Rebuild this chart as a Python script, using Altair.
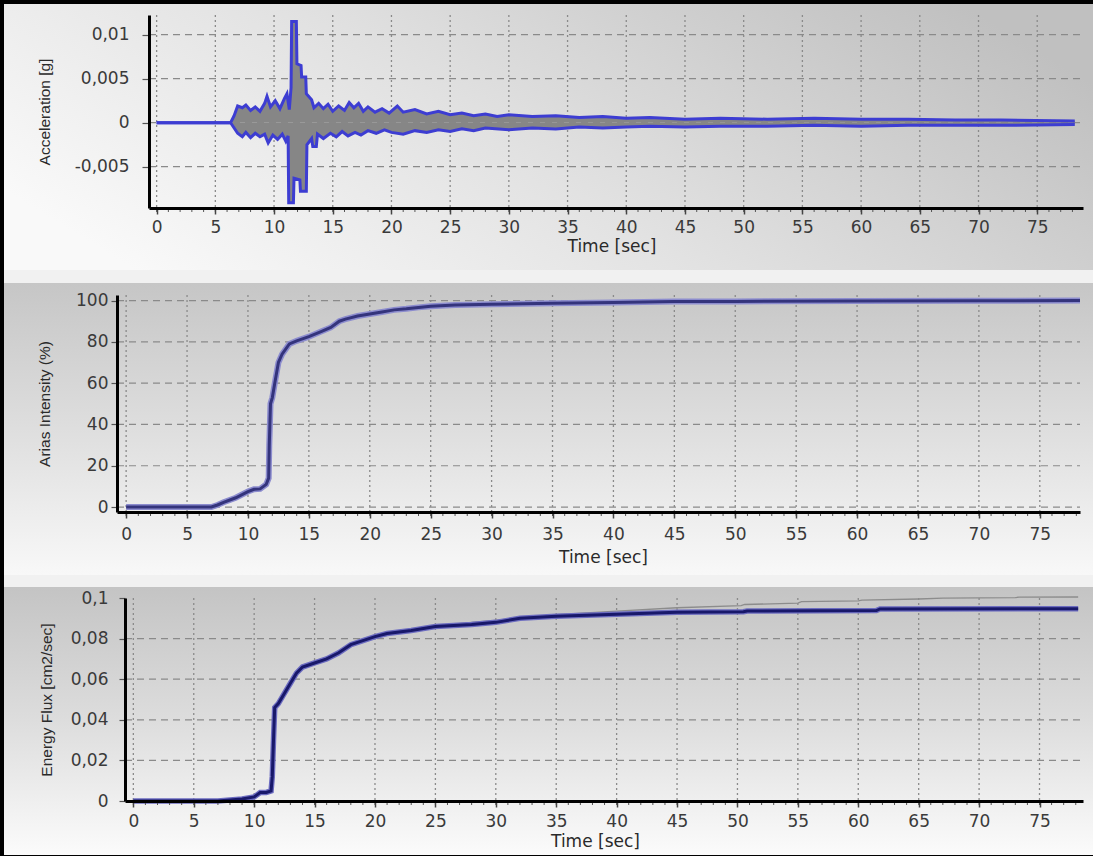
import altair as alt
import pandas as pd

# ---------------- data ----------------
time_ticks = [0, 5, 10, 15, 20, 25, 30, 35, 40, 45, 50, 55, 60, 65, 70, 75]
minor_ticks = list(range(0, 79))
acc_ticks = [-0.005, 0, 0.005, 0.01]
arias_ticks = [0, 20, 40, 60, 80, 100]
flux_ticks = [0, 0.02, 0.04, 0.06, 0.08]
flux_labels = [0, 0.02, 0.04, 0.06, 0.08, 0.1]

acc_upper = [(0, 0), (6.3, 0), (6.6, 0.0008), (6.9, 0.0019), (7.3, 0.0017), (7.6, 0.002), (8.0, 0.0014),
             (8.4, 0.0018), (8.8, 0.0013), (9.2, 0.0022), (9.4, 0.003), (9.7, 0.0018), (10.1, 0.0025),
             (10.5, 0.0016), (10.9, 0.0028), (11.1, 0.0033), (11.3, 0.0015), (11.45, 0.004), (11.5, 0.0115),
             (11.9, 0.0115), (11.95, 0.0067), (12.3, 0.0065), (12.35, 0.0052), (12.7, 0.0052), (12.75, 0.0033),
             (13.2, 0.0026), (13.4, 0.0017), (13.8, 0.0022), (14.2, 0.0016), (14.6, 0.0021), (15.0, 0.0013),
             (15.5, 0.0019), (16.0, 0.0014), (16.4, 0.0023), (16.8, 0.0017), (17.2, 0.0022), (17.6, 0.0013),
             (18.0, 0.0018), (18.6, 0.0012), (19.2, 0.0016), (19.8, 0.0011), (20.5, 0.0019), (21, 0.0012),
             (22, 0.0015), (23, 0.001), (24, 0.0013), (25, 0.0009), (26, 0.0011), (27, 0.0008), (28, 0.001),
             (29, 0.0007), (30, 0.0009), (32, 0.0007), (34, 0.0008), (36, 0.0006), (38, 0.0007), (40, 0.0005),
             (42, 0.0006), (45, 0.0004), (48, 0.0005), (52, 0.0004), (56, 0.0005), (60, 0.0004), (64, 0.0004),
             (68, 0.0003), (72, 0.0003), (78.2, 0.0002)]
acc_lower = [(0, 0), (6.3, 0), (6.6, -0.0006), (6.9, -0.0012), (7.3, -0.0016), (7.6, -0.0011), (8.0, -0.0017),
             (8.4, -0.0012), (8.8, -0.0016), (9.2, -0.0013), (9.5, -0.0023), (9.9, -0.0014), (10.3, -0.0019),
             (10.7, -0.0013), (11.0, -0.0021), (11.2, -0.0015), (11.25, -0.0091), (11.65, -0.0091),
             (11.7, -0.0063), (12.2, -0.0065), (12.25, -0.0078), (12.75, -0.0078), (12.8, -0.0025),
             (13.2, -0.0018), (13.3, -0.0027), (13.6, -0.0027), (13.7, -0.0013), (14.2, -0.0018), (14.8, -0.0012),
             (15.3, -0.0016), (15.8, -0.001), (16.3, -0.0015), (16.9, -0.0011), (17.4, -0.0014), (18.0, -0.0009),
             (18.7, -0.0012), (19.4, -0.0008), (20, -0.0011), (21, -0.0013), (22, -0.0009), (23, -0.0011),
             (24, -0.0008), (25, -0.001), (26, -0.0007), (27, -0.0009), (28, -0.0006), (30, -0.0008),
             (32, -0.0006), (34, -0.0007), (36, -0.0005), (38, -0.0006), (40, -0.0005), (42, -0.0004),
             (45, -0.0005), (48, -0.0004), (52, -0.0004), (56, -0.0003), (60, -0.0004), (64, -0.0003),
             (68, -0.0003), (72, -0.0003), (78.2, -0.0002)]

arias = [(0, 0), (7, 0), (7.5, 1), (8, 2.3), (9, 4.5), (10, 7.5), (10.5, 8.6), (11, 8.8), (11.5, 11),
         (11.7, 14), (11.75, 30), (11.85, 50), (12, 53), (12.2, 60), (12.5, 70), (12.8, 74), (13.4, 79),
         (14, 80.5), (15, 82.5), (16, 85), (16.8, 87), (17.5, 90), (18, 91), (19, 92.5), (20, 93.5),
         (21, 94.5), (22, 95.5), (23, 96), (24, 96.7), (25, 97.3), (27, 97.8), (30, 98.2), (35, 98.7),
         (40, 99.1), (45, 99.5), (50, 99.6), (60, 99.8), (70, 99.9), (78.3, 100)]

flux = [(0, 0), (7, 0), (8, 0.0005), (9, 0.001), (10, 0.002), (10.5, 0.0042), (11, 0.0042), (11.4, 0.005),
        (11.5, 0.012), (11.6, 0.03), (11.7, 0.046), (12, 0.048), (12.5, 0.053), (13, 0.058), (13.5, 0.063),
        (14, 0.066), (15, 0.068), (16, 0.070), (17, 0.073), (18, 0.077), (19, 0.079), (20, 0.081),
        (21, 0.0825), (23, 0.084), (25, 0.086), (28, 0.087), (30, 0.088), (32, 0.09), (35, 0.091),
        (40, 0.092), (45, 0.093), (50.5, 0.0932), (50.8, 0.0936), (61.5, 0.0938), (61.8, 0.0946),
        (78.2, 0.0947)]
flux_total = [(0, 0), (7, 0), (8, 0.0005), (9, 0.001), (10, 0.002), (10.5, 0.0042), (11, 0.0042),
              (11.4, 0.005), (11.5, 0.012), (11.6, 0.03), (11.7, 0.046), (12, 0.048), (12.5, 0.053),
              (13, 0.058), (13.5, 0.063), (14, 0.066), (15, 0.068), (16, 0.070), (17, 0.073), (18, 0.077),
              (19, 0.079), (20, 0.081), (21, 0.0825), (23, 0.084), (25, 0.0862), (28, 0.088), (30, 0.089),
              (35, 0.0918), (40, 0.0935), (45, 0.0952), (50.3, 0.0962), (50.6, 0.0968), (55, 0.0975),
              (55.3, 0.0982), (60, 0.0986), (60.3, 0.099), (65, 0.0995), (67, 0.0999), (73, 0.1002),
              (73.3, 0.1004), (78.2, 0.1005)]


def frame(pairs):
    return pd.DataFrame(pairs, columns=["t", "v"])


one = alt.Data(values=[{"a": 1}])
W = 966
LABEL_FONT = "DejaVu Sans"


def grad(stops, x1, y1, x2, y2):
    return alt.LinearGradient(
        gradient="linear",
        stops=[alt.GradientStop(color=c, offset=o) for o, c in stops],
        x1=x1, y1=y1, x2=x2, y2=y2)


def x_axis(title_x, title_y, label_pad):
    return alt.Axis(values=time_ticks, title="Time [sec]", grid=False, domainColor="black", domainWidth=3,
                    tickColor="#444444", tickWidth=1.5, tickSize=6, labelPadding=label_pad,
                    labelFont=LABEL_FONT, labelFontSize=17, labelColor="#3a3a3a", labelFlush=False,
                    labelOverlap=False, titleFont=LABEL_FONT, titleFontSize=17, titleFontWeight="normal",
                    titleColor="#2a2a2a", titleX=title_x, titleY=title_y, titleBaseline="middle",
                    titleAlign="center", zindex=1)


def y_axis(values, title, offset, tick_size, label_pad, title_x, title_y):
    return alt.Axis(values=values, title=title, offset=offset, grid=False, domainColor="black", domainWidth=3,
                    tickColor="#555555", tickWidth=1.2, tickSize=tick_size, labelPadding=label_pad,
                    labelExpr="replace(toString(datum.value), '.', ',')",
                    labelFont=LABEL_FONT, labelFontSize=17, labelColor="#3a3a3a", labelFlush=False,
                    labelOverlap=False, titleFont="Liberation Sans", titleFontSize=15.5,
                    titleFontWeight="normal", titleColor="#2a2a2a", titleAngle=270, titleX=title_x,
                    titleY=title_y, titleBaseline="middle", titleAlign="center", zindex=1)


def backgrounds(x_left, x_right, full_top, full_bottom, g_top, g_bottom, gradient):
    strip = alt.Chart(one).mark_rect(color="#f1f1f1").encode(
        x=alt.value(x_left), x2=alt.value(x_right), y=alt.value(full_top), y2=alt.value(full_bottom))
    body = alt.Chart(one).mark_rect(color=gradient).encode(
        x=alt.value(x_left), x2=alt.value(x_right), y=alt.value(g_top), y2=alt.value(g_bottom))
    return [strip, body]


def panel(xs, ys, xax, yax, y_values, x0, x1, h, bg, data_layers):
    vgrid = alt.Chart(frame([(t, 0) for t in time_ticks])).mark_rule(
        color="#8a8a8a", strokeDash=[2, 3], strokeWidth=1.3).encode(
        x=alt.X("t:Q", scale=xs, axis=xax))
    hgrid = alt.Chart(frame([(0, v) for v in y_values])).mark_rule(
        color="#8a8a8a", strokeDash=[7, 5], strokeWidth=1.2).encode(
        y=alt.Y("v:Q", scale=ys, axis=yax), x=alt.value(x0), x2=alt.value(x1))
    minor = alt.Chart(frame([(t, 0) for t in minor_ticks])).mark_rule(
        color="#555555", strokeWidth=1).encode(
        x=alt.X("t:Q", scale=xs), y=alt.value(h), y2=alt.value(h + 4))
    return alt.layer(*bg, vgrid, hgrid, *data_layers, minor).properties(width=W, height=h)


def series(pairs, xs, ys, **kw):
    return alt.Chart(frame(pairs)).mark_line(**kw).encode(
        x=alt.X("t:Q", scale=xs), y=alt.Y("v:Q", scale=ys))


# ---------------- panel 1: acceleration ----------------
H1 = 193
xs1 = alt.Scale(domain=[-0.65, 78.9], range=[32, W], nice=False, zero=False)
ys1 = alt.Scale(domain=[-0.00969, 0.01224], nice=False, zero=False)
g1 = grad([(0, "#f9f9f9"), (0.45, "#e2e2e2"), (1, "#c0c0c0")], 0, 0.7, 1, 0.3)
bg1 = backgrounds(-113, 976, -11, 262, -11, 255, g1)

area_up = alt.Chart(frame(acc_upper)).mark_area(color="#868686", opacity=1).encode(
    x=alt.X("t:Q", scale=xs1), y=alt.Y("v:Q", scale=ys1), y2=alt.datum(0))
area_lo = alt.Chart(frame(acc_lower)).mark_area(color="#868686", opacity=1).encode(
    x=alt.X("t:Q", scale=xs1), y=alt.Y("v:Q", scale=ys1), y2=alt.datum(0))
line_up = series(acc_upper, xs1, ys1, color="#3d3dd2", strokeWidth=3)
line_lo = series(acc_lower, xs1, ys1, color="#3d3dd2", strokeWidth=3)

p1 = panel(xs1, ys1, x_axis(494.5, 38, 5),
           y_axis(acc_ticks, "Acceleration [g]", -32, 7, 13, -105, H1 / 2),
           acc_ticks, 32, W, H1, bg1, [area_up, area_lo, line_up, line_lo])

# ---------------- panel 2: Arias intensity ----------------
H2 = 217
xs2 = alt.Scale(domain=[-0.75, 78.3], range=[0, 963], nice=False, zero=False)
ys2 = alt.Scale(domain=[-2.4, 102.7], nice=False, zero=False)
g2 = grad([(0, "#c6c6c6"), (0.5, "#dedede"), (1, "#f8f8f8")], 0, 0, 0, 1)
bg2 = backgrounds(-113, 976, -18, 286, -12, 280, g2)

arias_halo = series(arias, xs2, ys2, color="#8c8cce", strokeWidth=6)
arias_core = series(arias, xs2, ys2, color="#34347c", strokeWidth=3)

p2 = panel(xs2, ys2, x_axis(486, 45, 8),
           y_axis(arias_ticks, "Arias Intensity (%)", 0, 6, 3, -73, H2 / 2),
           arias_ticks, 0, 963, H2, bg2, [arias_halo, arias_core])

# ---------------- panel 3: energy flux ----------------
H3 = 203
xs3 = alt.Scale(domain=[-0.69, 78.6], range=[8, W], nice=False, zero=False)
ys3 = alt.Scale(domain=[0, 0.1], nice=False, zero=False)
g3 = grad([(0, "#c4c4c4"), (0.5, "#dddddd"), (1, "#fbfbfb")], 0, 0, 0, 1)
bg3 = backgrounds(-113, 976, -17, 257, -11, 257, g3)

total_line = series(flux_total, xs3, ys3, color="#8c8c8c", strokeWidth=1.3)
flux_halo = series(flux, xs3, ys3, color="#6c6cc0", strokeWidth=5.5)
flux_core = series(flux, xs3, ys3, color="#18186a", strokeWidth=3)

p3 = panel(xs3, ys3, x_axis(478, 40, 6),
           y_axis(flux_labels, "Energy Flux [cm2/sec]", -8, 6, 11, -79, H3 / 2),
           flux_ticks, 8, W, H3, bg3, [total_line, flux_halo, flux_core])

chart = alt.vconcat(p1, p2, p3, spacing=0).properties(
    background="black",
    padding={"left": 4, "top": 4, "right": 0, "bottom": 1},
).configure_view(stroke=None)

chart.save("out.html", embed_options={"renderer": "svg", "actions": False})
